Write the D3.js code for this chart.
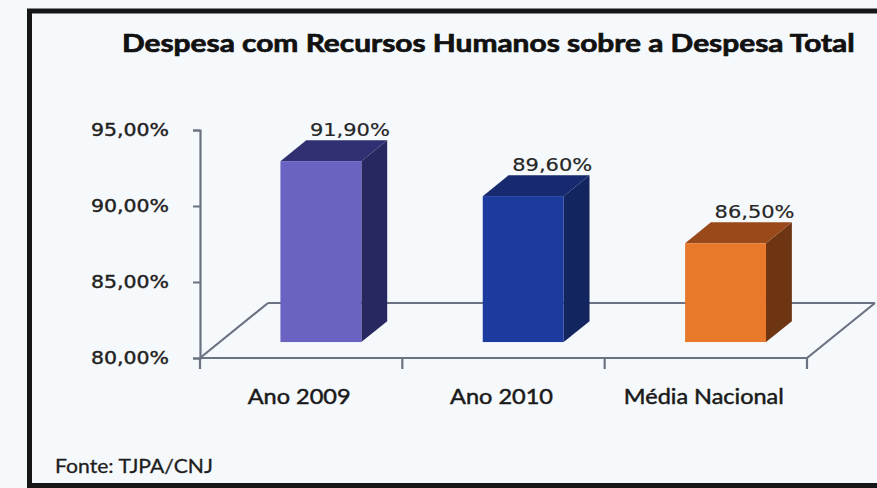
<!DOCTYPE html>
<html>
<head>
<meta charset="utf-8">
<script src="https://cdn.jsdelivr.net/npm/d3@7"></script>
<style>
  html, body { margin: 0; padding: 0; background: #f6f9fa; }
  svg { display: block; }
</style>
</head>
<body>
<svg width="877" height="488"></svg>
<script>
// data
const categories = ["Ano 2009", "Ano 2010", "Média Nacional"]
const values = [0.919, 0.896, 0.865]
const yTicks = [0.80, 0.85, 0.90, 0.95]
const title = "Despesa com Recursos Humanos sobre a Despesa Total"
const source = "Fonte: TJPA/CNJ"

const frontColors = ["#6a63c2", "#1d3b9f", "#e8792b"]
const sideColors = ["#27285f", "#13255e", "#6e3512"]
const topColors = ["#2f2f72", "#172a70", "#9a4a1a"]

const ptBR = d3.formatLocale({ decimal: ",", thousands: ".", grouping: [3], currency: ["R$", ""] })
const pct = ptBR.format(".2%")

var svg = d3.select("svg")

// stretch text horizontally to a given width (the picture is wider than normal)
function stretch(sel, width) {
  sel.each(function (d, i) {
    var w = this.getComputedTextLength()
    var target = typeof width === "function" ? width(d, i) : width
    var sx = target / w
    var x0 = +d3.select(this).attr("x") || 0
    d3.select(this)
      .attr("x", x0 / sx)
      .attr("transform", "scale(" + sx + ",1)")
  })
}

// frame
svg.append("rect")
  .attr("x", 29.5).attr("y", 11)
  .attr("width", 900).attr("height", 474.5)
  .attr("fill", "#f6f9fb")
  .attr("stroke", "#161616")
  .attr("stroke-width", 5)

var x = d3.scaleBand().domain(categories).range([200, 807])
var y = d3.scaleLinear().domain([0.80, 0.95]).range([358, 130])

// 3d depth settings
const depthX = 68, depthY = -55
const barFront = 0.29, barDepth = 0.38
const barW = x.bandwidth() * 0.4

const lineColor = "#6b7282"

// floor
var floor = svg.append("g")
  .attr("fill", "none")
  .attr("stroke", lineColor)
  .attr("stroke-width", 2.2)

var y0 = y(0.80)
floor.append("line")
  .attr("x1", x.range()[0] + depthX).attr("y1", y0 + depthY)
  .attr("x2", x.range()[1] + depthX).attr("y2", y0 + depthY)
floor.append("line")
  .attr("x1", x.range()[0]).attr("y1", y0)
  .attr("x2", x.range()[0] + depthX).attr("y2", y0 + depthY)
floor.append("line")
  .attr("x1", x.range()[1]).attr("y1", y0)
  .attr("x2", x.range()[1] + depthX).attr("y2", y0 + depthY)
floor.append("line")
  .attr("x1", x.range()[0]).attr("y1", y0)
  .attr("x2", x.range()[1]).attr("y2", y0)

// x ticks at band edges
var edges = categories.map(d => x(d)).concat([x.range()[1]])
floor.selectAll(".xtick")
  .data(edges)
  .enter().append("line")
  .attr("x1", d => d).attr("x2", d => d)
  .attr("y1", y0).attr("y2", y0 + 11)

// y axis
var yAxis = svg.append("g")
  .attr("transform", "translate(" + x.range()[0] + ",0)")
  .call(d3.axisLeft(y).tickValues(yTicks).tickFormat(pct).tickSize(7).tickPadding(24))
yAxis.select(".domain").attr("stroke", lineColor).attr("stroke-width", 2.2)
yAxis.selectAll(".tick line").attr("stroke", lineColor).attr("stroke-width", 2)
yAxis.selectAll(".tick text")
  .attr("fill", "#222")
  .attr("stroke", "#222")
  .attr("stroke-width", 0.4)
  .style("font-family", "DejaVu Sans")
  .style("font-size", "17px")
  .call(stretch, 78)

// bars
var offX = depthX * barFront, offY = depthY * barFront
var dX = depthX * barDepth, dY = depthY * barDepth

var bars = svg.selectAll(".bar")
  .data(values)
  .enter().append("g")
  .attr("class", "bar")

function fx(i) { return x(categories[i]) + x.bandwidth() / 2 - barW / 2 + offX }

bars.append("path")
  .attr("fill", (d, i) => sideColors[i])
  .attr("d", function (d, i) {
    var l = fx(i) + barW, t = y(d) + offY, b = y0 + offY
    return "M" + l + "," + t + "L" + (l + dX) + "," + (t + dY) + "L" + (l + dX) + "," + (b + dY) + "L" + l + "," + b + "Z"
  })
bars.append("path")
  .attr("fill", (d, i) => topColors[i])
  .attr("d", function (d, i) {
    var l = fx(i), t = y(d) + offY
    return "M" + l + "," + t + "L" + (l + barW) + "," + t + "L" + (l + barW + dX) + "," + (t + dY) + "L" + (l + dX) + "," + (t + dY) + "Z"
  })
bars.append("rect")
  .attr("fill", (d, i) => frontColors[i])
  .attr("x", (d, i) => fx(i))
  .attr("y", d => y(d) + offY)
  .attr("width", barW)
  .attr("height", d => y0 - y(d))

// value labels
bars.append("text")
  .attr("x", (d, i) => fx(i) + barW / 2 + 29)
  .attr("y", d => y(d) + offY + dY - 4)
  .attr("text-anchor", "middle")
  .attr("fill", "#262626")
  .attr("stroke", "#262626")
  .attr("stroke-width", 0.2)
  .style("font-family", "DejaVu Sans")
  .style("font-size", "17px")
  .text(d => pct(d))
  .call(stretch, 80)

// category labels
svg.selectAll(".cat")
  .data(categories)
  .enter().append("text")
  .attr("class", "cat")
  .attr("x", d => x(d) + x.bandwidth() / 2 - 2)
  .attr("y", 404)
  .attr("text-anchor", "middle")
  .attr("fill", "#1a1a1a")
  .attr("stroke", "#1a1a1a")
  .attr("stroke-width", 0.5)
  .style("font-family", "Lato")
  .style("font-size", "22px")
  .text(d => d)
  .call(stretch, (d, i) => [103, 103, 160][i])

// title
svg.append("text")
  .attr("x", 122)
  .attr("y", 52)
  .attr("fill", "#111")
  .attr("stroke", "#111")
  .attr("stroke-width", 0.7)
  .style("font-family", "Lato")
  .style("font-weight", "bold")
  .style("font-size", "24px")
  .text(title)
  .call(stretch, 733)

// source
svg.append("text")
  .attr("x", 55)
  .attr("y", 473)
  .attr("fill", "#1e1e1e")
  .attr("stroke", "#1e1e1e")
  .attr("stroke-width", 0.3)
  .style("font-family", "Lato")
  .style("font-size", "19px")
  .text(source)
  .call(stretch, 158)
</script>
</body>
</html>
